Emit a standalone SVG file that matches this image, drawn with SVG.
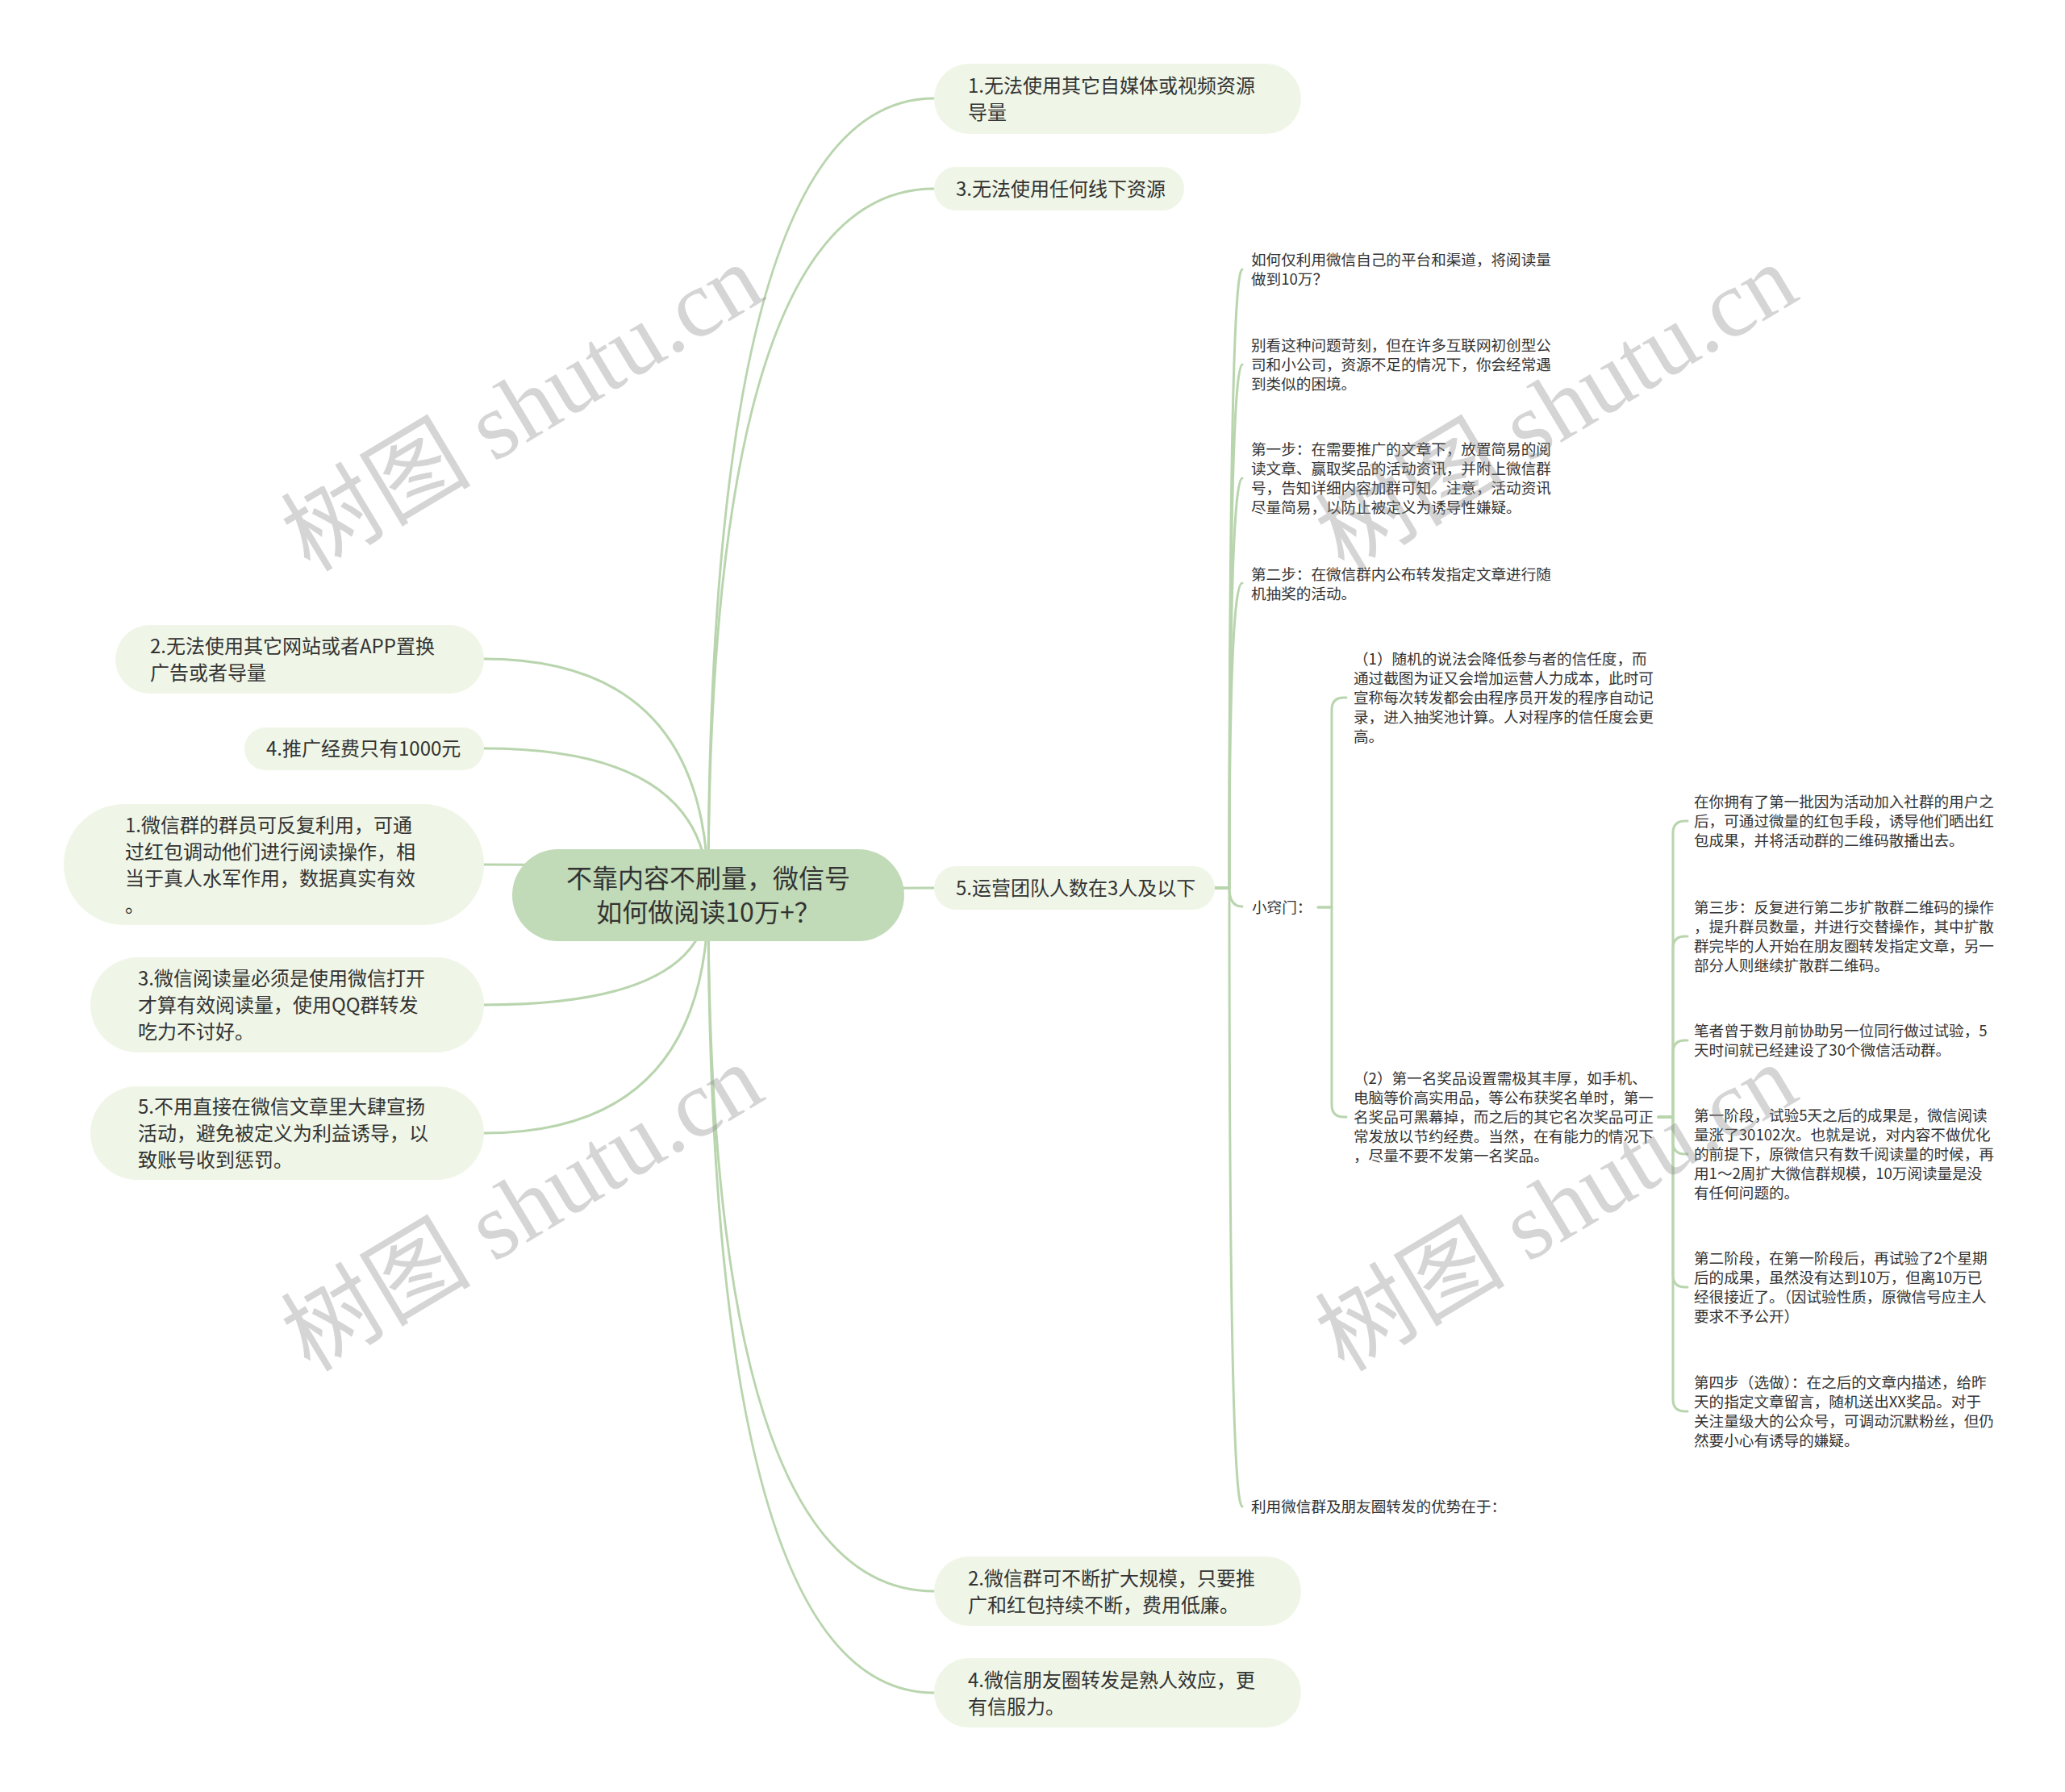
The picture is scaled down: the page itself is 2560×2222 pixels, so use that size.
<svg xmlns="http://www.w3.org/2000/svg" width="2560" height="2222" viewBox="0 0 2560 2222">
<style>
.conn{fill:none;stroke:#b9d5ae;stroke-width:3;stroke-linecap:round;stroke-linejoin:round}
.rootbox{fill:#c1dab7}
.box{fill:#eff6e7}
text{font-family:"Noto Sans CJK SC","Noto Sans",sans-serif;fill:#333333}
.t32{font-size:32px}
.t24{font-size:24px}
.t18{font-size:18.6px}
.wm{font-family:"Liberation Serif","Noto Sans CJK SC",serif;font-size:118px;fill:#8c8c8c;opacity:0.36}
</style>
<rect width="2560" height="2222" fill="#ffffff"/>
<g id="connectors">
<path class="conn" d="M878 1110 Q878 122 1158 122"/>
<path class="conn" d="M878 1110 Q878 234 1158 234"/>
<path class="conn" d="M878 1110 Q878 1101 1158 1101"/>
<path class="conn" d="M878 1110 Q878 1973 1158 1973"/>
<path class="conn" d="M878 1110 Q878 2099 1158 2099"/>
<path class="conn" d="M878 1110 Q878 817 600 817"/>
<path class="conn" d="M878 1110 Q878 928 600 928"/>
<path class="conn" d="M878 1110 Q878 1072 600 1072"/>
<path class="conn" d="M878 1110 Q878 1246 600 1246"/>
<path class="conn" d="M878 1110 Q878 1405 600 1405"/>
<path class="conn" d="M1506 1101 H1524 Q1524 334 1540 334"/>
<path class="conn" d="M1506 1101 H1524 Q1524 452 1540 452"/>
<path class="conn" d="M1506 1101 H1524 Q1524 593 1540 593"/>
<path class="conn" d="M1506 1101 H1524 Q1524 723 1540 723"/>
<path class="conn" d="M1506 1101 H1524 Q1524 1124 1540 1124"/>
<path class="conn" d="M1506 1101 H1524 Q1524 1868 1540 1868"/>
<path class="conn" d="M1634 1125 H1651 V880 Q1651 865 1666 865 H1669"/>
<path class="conn" d="M1634 1125 H1651 V1370 Q1651 1385 1666 1385 H1669"/>
<path class="conn" d="M2056 1385 H2074 V1033 Q2074 1018 2089 1018 H2092"/>
<path class="conn" d="M2056 1385 H2074 V1176 Q2074 1161 2089 1161 H2092"/>
<path class="conn" d="M2056 1385 H2074 V1305 Q2074 1290 2089 1290 H2092"/>
<path class="conn" d="M2056 1385 H2074 V1416 Q2074 1431 2089 1431 H2092"/>
<path class="conn" d="M2056 1385 H2074 V1581 Q2074 1596 2089 1596 H2092"/>
<path class="conn" d="M2056 1385 H2074 V1735 Q2074 1750 2089 1750 H2092"/>
</g>
<g id="root">
<rect class="rootbox" x="635" y="1053" width="486" height="114" rx="57"/>
<text class="t32" text-anchor="middle"><tspan x="878" y="1101">不靠内容不刷量，微信号</tspan><tspan x="878" y="1143">如何做阅读10万+？</tspan></text>
</g>
<g id="r1">
<rect class="box" x="1158" y="79" width="455" height="87" rx="43.5"/>
<text class="t24"><tspan x="1200" y="114.5">1.无法使用其它自媒体或视频资源</tspan><tspan x="1200" y="147.5">导量</tspan></text>
</g>
<g id="r2">
<rect class="box" x="1158" y="207" width="310" height="54" rx="27"/>
<text class="t24" x="1185" y="243">3.无法使用任何线下资源</text>
</g>
<g id="r3">
<rect class="box" x="1158" y="1074" width="348" height="54" rx="27"/>
<text class="t24" x="1185" y="1110">5.运营团队人数在3人及以下</text>
</g>
<g id="r4">
<rect class="box" x="1158" y="1930" width="455" height="86" rx="43"/>
<text class="t24"><tspan x="1200" y="1965.5">2.微信群可不断扩大规模，只要推</tspan><tspan x="1200" y="1998.5">广和红包持续不断，费用低廉。</tspan></text>
</g>
<g id="r5">
<rect class="box" x="1158" y="2056" width="455" height="86" rx="43"/>
<text class="t24"><tspan x="1200" y="2091.5">4.微信朋友圈转发是熟人效应，更</tspan><tspan x="1200" y="2124.5">有信服力。</tspan></text>
</g>
<g id="l1">
<rect class="box" x="143" y="775" width="457" height="85" rx="42.5"/>
<text class="t24"><tspan x="186" y="810">2.无法使用其它网站或者APP置换</tspan><tspan x="186" y="843">广告或者导量</tspan></text>
</g>
<g id="l2">
<rect class="box" x="303" y="902" width="297" height="53" rx="26.5"/>
<text class="t24" x="330" y="937">4.推广经费只有1000元</text>
</g>
<g id="l3">
<rect class="box" x="79" y="997" width="521" height="150" rx="75"/>
<text class="t24"><tspan x="155" y="1031.5">1.微信群的群员可反复利用，可通</tspan><tspan x="155" y="1064.5">过红包调动他们进行阅读操作，相</tspan><tspan x="155" y="1097.5">当于真人水军作用，数据真实有效</tspan><tspan x="155" y="1130.5">。</tspan></text>
</g>
<g id="l4">
<rect class="box" x="112" y="1187" width="488" height="118" rx="59"/>
<text class="t24"><tspan x="171" y="1222">3.微信阅读量必须是使用微信打开</tspan><tspan x="171" y="1255">才算有效阅读量，使用QQ群转发</tspan><tspan x="171" y="1288">吃力不讨好。</tspan></text>
</g>
<g id="l5">
<rect class="box" x="112" y="1347" width="488" height="116" rx="58"/>
<text class="t24"><tspan x="171" y="1381">5.不用直接在微信文章里大肆宣扬</tspan><tspan x="171" y="1414">活动，避免被定义为利益诱导，以</tspan><tspan x="171" y="1447">致账号收到惩罚。</tspan></text>
</g>
<g id="m1">
<text class="t18"><tspan x="1551" y="329">如何仅利用微信自己的平台和渠道，将阅读量</tspan><tspan x="1551" y="353">做到10万？</tspan></text>
</g>
<g id="m2">
<text class="t18"><tspan x="1551" y="435">别看这种问题苛刻，但在许多互联网初创型公</tspan><tspan x="1551" y="459">司和小公司，资源不足的情况下，你会经常遇</tspan><tspan x="1551" y="483">到类似的困境。</tspan></text>
</g>
<g id="m3">
<text class="t18"><tspan x="1551" y="564">第一步：在需要推广的文章下，放置简易的阅</tspan><tspan x="1551" y="588">读文章、赢取奖品的活动资讯，并附上微信群</tspan><tspan x="1551" y="612">号，告知详细内容加群可知。注意，活动资讯</tspan><tspan x="1551" y="636">尽量简易，以防止被定义为诱导性嫌疑。</tspan></text>
</g>
<g id="m4">
<text class="t18"><tspan x="1551" y="718.5">第二步：在微信群内公布转发指定文章进行随</tspan><tspan x="1551" y="742.5">机抽奖的活动。</tspan></text>
</g>
<g id="m5">
<text class="t18" x="1552" y="1132">小窍门：</text>
</g>
<g id="m6">
<text class="t18" x="1551" y="1875">利用微信群及朋友圈转发的优势在于：</text>
</g>
<g id="k1">
<text class="t18"><tspan x="1678" y="823.6">（1）随机的说法会降低参与者的信任度，而</tspan><tspan x="1678" y="847.8">通过截图为证又会增加运营人力成本，此时可</tspan><tspan x="1678" y="872">宣称每次转发都会由程序员开发的程序自动记</tspan><tspan x="1678" y="896.2">录，进入抽奖池计算。人对程序的信任度会更</tspan><tspan x="1678" y="920.4">高。</tspan></text>
</g>
<g id="k2">
<text class="t18"><tspan x="1678" y="1344">（2）第一名奖品设置需极其丰厚，如手机、</tspan><tspan x="1678" y="1368">电脑等价高实用品，等公布获奖名单时，第一</tspan><tspan x="1678" y="1392">名奖品可黑幕掉，而之后的其它名次奖品可正</tspan><tspan x="1678" y="1416">常发放以节约经费。当然，在有能力的情况下</tspan><tspan x="1678" y="1440">，尽量不要不发第一名奖品。</tspan></text>
</g>
<g id="c1">
<text class="t18"><tspan x="2100" y="1001">在你拥有了第一批因为活动加入社群的用户之</tspan><tspan x="2100" y="1025">后，可通过微量的红包手段，诱导他们晒出红</tspan><tspan x="2100" y="1049">包成果，并将活动群的二维码散播出去。</tspan></text>
</g>
<g id="c2">
<text class="t18"><tspan x="2100" y="1132">第三步：反复进行第二步扩散群二维码的操作</tspan><tspan x="2100" y="1156">，提升群员数量，并进行交替操作，其中扩散</tspan><tspan x="2100" y="1180">群完毕的人开始在朋友圈转发指定文章，另一</tspan><tspan x="2100" y="1204">部分人则继续扩散群二维码。</tspan></text>
</g>
<g id="c3">
<text class="t18"><tspan x="2100" y="1285">笔者曾于数月前协助另一位同行做过试验，5</tspan><tspan x="2100" y="1309">天时间就已经建设了30个微信活动群。</tspan></text>
</g>
<g id="c4">
<text class="t18"><tspan x="2100" y="1390">第一阶段，试验5天之后的成果是，微信阅读</tspan><tspan x="2100" y="1414">量涨了30102次。也就是说，对内容不做优化</tspan><tspan x="2100" y="1438">的前提下，原微信只有数千阅读量的时候，再</tspan><tspan x="2100" y="1462">用1～2周扩大微信群规模，10万阅读量是没</tspan><tspan x="2100" y="1486">有任何问题的。</tspan></text>
</g>
<g id="c5">
<text class="t18"><tspan x="2100" y="1567">第二阶段，在第一阶段后，再试验了2个星期</tspan><tspan x="2100" y="1591">后的成果，虽然没有达到10万，但离10万已</tspan><tspan x="2100" y="1615">经很接近了。（因试验性质，原微信号应主人</tspan><tspan x="2100" y="1639">要求不予公开）</tspan></text>
</g>
<g id="c6">
<text class="t18"><tspan x="2100" y="1721">第四步（选做）：在之后的文章内描述，给昨</tspan><tspan x="2100" y="1745">天的指定文章留言，随机送出XX奖品。对于</tspan><tspan x="2100" y="1769">关注量级大的公众号，可调动沉默粉丝，但仍</tspan><tspan x="2100" y="1793">然要小心有诱导的嫌疑。</tspan></text>
</g>
<g id="watermark">
<text class="wm" text-anchor="middle" transform="translate(668 540) rotate(-31)">树图 shutu.cn</text>
<text class="wm" text-anchor="middle" transform="translate(668 1532) rotate(-31)">树图 shutu.cn</text>
<text class="wm" text-anchor="middle" transform="translate(1950 540) rotate(-31)">树图 shutu.cn</text>
<text class="wm" text-anchor="middle" transform="translate(1950 1532) rotate(-31)">树图 shutu.cn</text>
</g>
</svg>
